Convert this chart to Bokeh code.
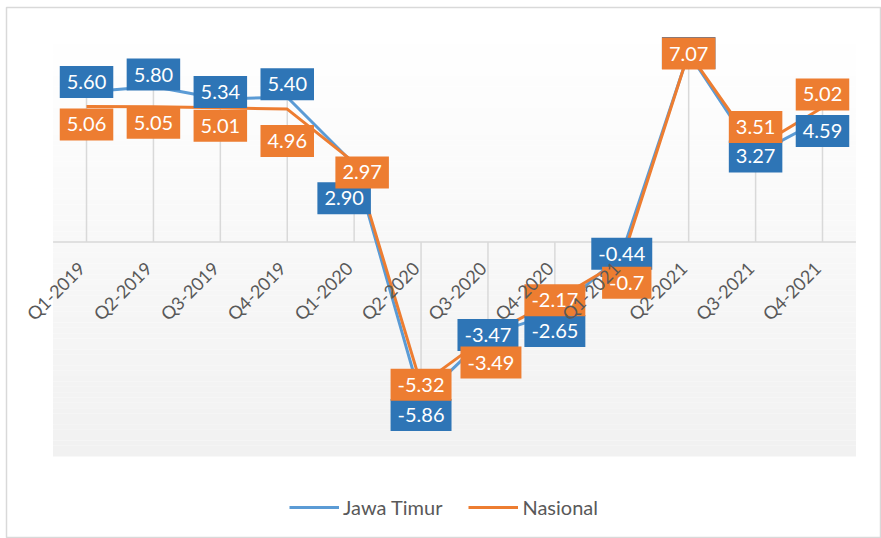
import numpy as np
from bokeh.plotting import figure
from bokeh.models import ColumnDataSource, Range1d, Legend, LegendItem
from bokeh.core.properties import value
from bokeh.embed import file_html
from bokeh.resources import INLINE

# ---------------- data ----------------
categories = ["Q1-2019", "Q2-2019", "Q3-2019", "Q4-2019",
              "Q1-2020", "Q2-2020", "Q3-2020", "Q4-2020",
              "Q1-2021", "Q2-2021", "Q3-2021", "Q4-2021"]
jawa_timur = [5.60, 5.80, 5.34, 5.40, 2.90, -5.86, -3.47, -2.65, -0.44, 7.05, 3.27, 4.59]
nasional = [5.06, 5.05, 5.01, 4.96, 2.97, -5.32, -3.49, -2.17, -0.70, 7.07, 3.51, 5.02]
jawa_timur_labels = ["5.60", "5.80", "5.34", "5.40", "2.90", "-5.86", "-3.47", "-2.65",
                     "-0.44", "7.05", "3.27", "4.59"]
nasional_labels = ["5.06", "5.05", "5.01", "4.96", "2.97", "-5.32", "-3.49", "-2.17",
                   "-0.7", "7.07", "3.51", "5.02"]

# label placement (screen px, positive = down/right)
jt_dx = [0, 0, 0, 0, -10, 0, 0, 0, 0, 0, 0, 0]
jt_dy = [-10, -12, -7, -13, 34, 16, 0, 18, 0, 0, 2, 12]
na_dx = [0, 0, 0, 0, 8, 0, 3, 0, 5, 0, 0, 0]
na_dy = [18, 16, 18, 32, 10, 0, 27, 0, 22, 1, -21, -13]

# ---------------- styles ----------------
BLUE_LINE = "#5b9bd5"
BLUE_BOX = "#2e75b6"
ORANGE = "#ed7d31"
GRID = "#d9d9d9"
TXT = "#595959"
FONT = "Lato"

W, H = 881, 538
x_idx = list(range(len(categories)))
YMIN, YMAX = -8, 8

p = figure(width=W, height=H, output_backend="svg", toolbar_location=None,
           x_axis_type=None, y_axis_type=None,
           x_range=Range1d(-1.196, 11.882), y_range=Range1d(-11.06, 8.75),
           min_border=0, min_border_left=6, min_border_right=0,
           min_border_top=7, min_border_bottom=0)
p.grid.visible = False
p.outline_line_color = GRID
p.outline_line_width = 1.5
p.background_fill_color = "white"
p.border_fill_color = "white"

# plot-area gradient background
N = 80
edges = np.linspace(YMAX, YMIN, N + 1)
shades = np.linspace(255, 241, N).round().astype(int)
cols = ["#%02x%02x%02x" % (s, s, s) for s in shades]
p.quad(left=-0.5, right=len(categories) - 0.5, top=edges[:-1], bottom=edges[1:],
       fill_color=cols, line_color=None)

# category axis line at zero
p.segment(x0=[-0.5], y0=[0], x1=[len(categories) - 0.5], y1=[0],
          line_color=GRID, line_width=1.5)

# drop lines
ext = [max(a, b) if max(a, b) > 0 else min(a, b) for a, b in zip(jawa_timur, nasional)]
p.segment(x0=x_idx, y0=[0] * len(x_idx), x1=x_idx, y1=ext, line_color=GRID, line_width=1.5)

r1 = p.line(x_idx, jawa_timur, line_color=BLUE_LINE, line_width=3, line_join="round")
r2 = p.line(x_idx, nasional, line_color=ORANGE, line_width=3, line_join="round")

pad = dict(left=7, right=7, top=9, bottom=9)
src_jt = ColumnDataSource(dict(x=x_idx, y=jawa_timur, t=jawa_timur_labels, dx=jt_dx, dy=jt_dy))
src_na = ColumnDataSource(dict(x=x_idx, y=nasional, t=nasional_labels, dx=na_dx, dy=na_dy))
for src, bg in ((src_jt, BLUE_BOX), (src_na, ORANGE)):
    p.text(x="x", y="y", text="t", source=src, x_offset="dx", y_offset="dy",
           text_align="center", text_baseline="middle",
           text_font=value(FONT), text_font_size="20px", text_color="white",
           background_fill_color=bg, padding=pad, border_line_color=None)

# category labels, rotated, at the zero line
src_cat = ColumnDataSource(dict(x=x_idx, y=[0] * len(x_idx), t=categories))
p.text(x="x", y="y", text="t", source=src_cat, angle=np.pi / 4,
       x_offset=-5, y_offset=23, text_align="right", text_baseline="middle",
       text_font=value(FONT), text_font_size="18px", text_color=TXT, level="overlay")

legend = Legend(items=[LegendItem(label="Jawa Timur", renderers=[r1]),
                       LegendItem(label="Nasional", renderers=[r2])],
                orientation="horizontal", location=(283, 19),
                padding=0, margin=0, spacing=26, glyph_width=50, glyph_height=20,
                label_standoff=4, background_fill_alpha=0, border_line_color=None,
                label_text_font=FONT, label_text_font_size="20px",
                label_text_color=TXT)
p.add_layout(legend)

open("out.html", "w").write(file_html(p, INLINE))
